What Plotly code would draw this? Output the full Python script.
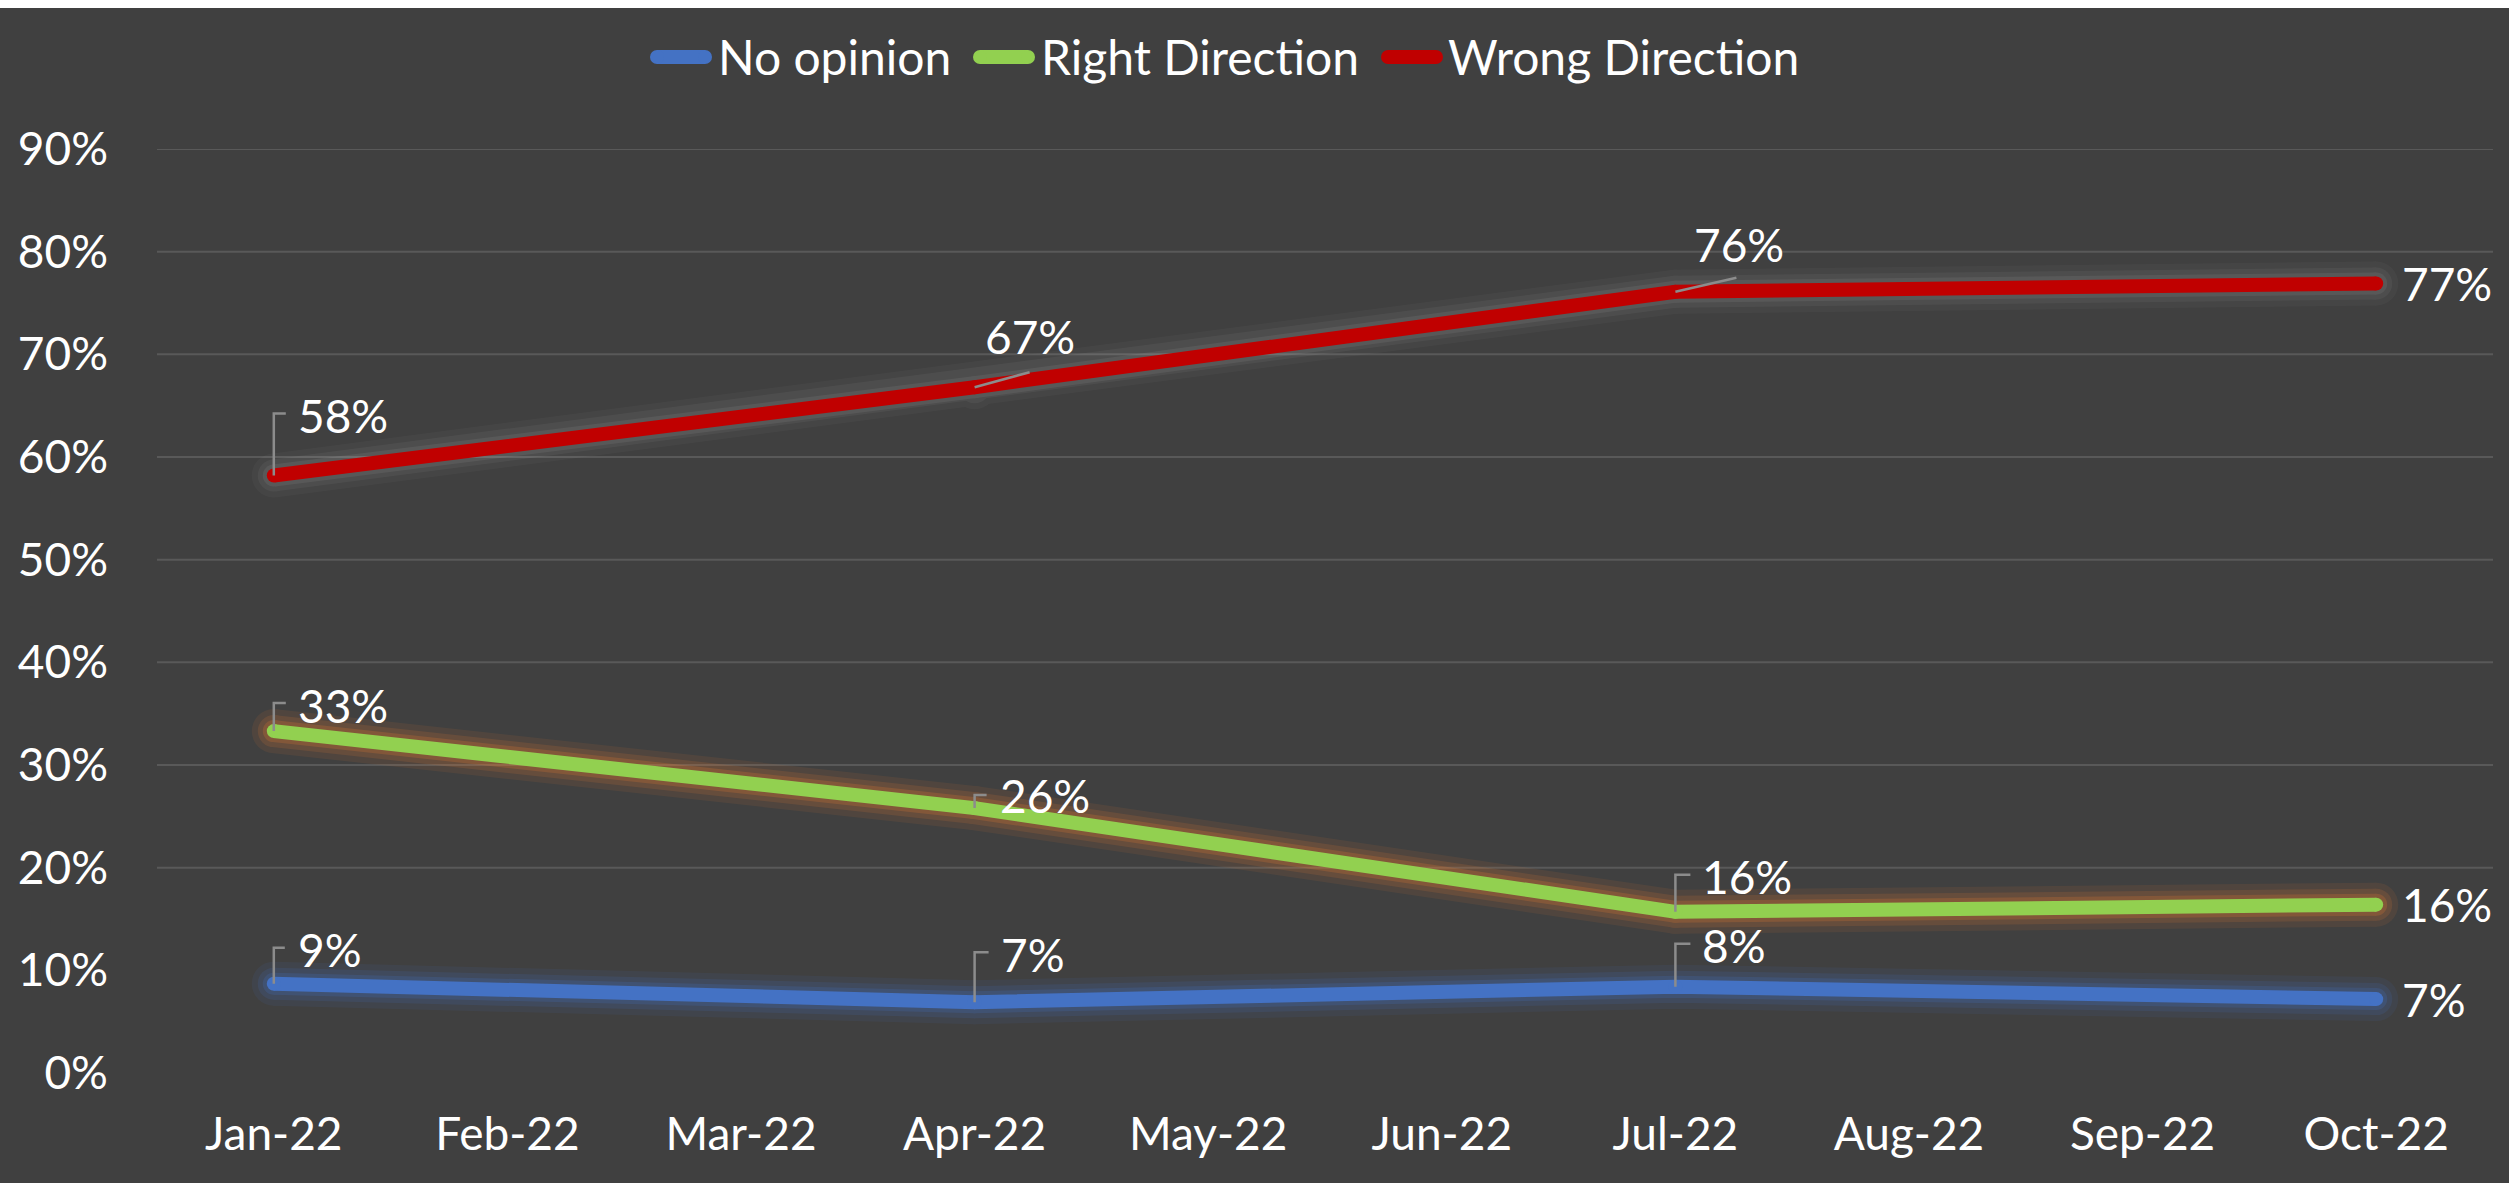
import plotly.graph_objects as go

# ---------------- data ----------------
months = ["Jan-22", "Feb-22", "Mar-22", "Apr-22", "May-22",
          "Jun-22", "Jul-22", "Aug-22", "Sep-22", "Oct-22"]
survey_months = ["Jan-22", "Apr-22", "Jul-22", "Oct-22"]
no_opinion = [0.087, 0.069, 0.084, 0.072]
right_direction = [0.333, 0.258, 0.157, 0.164]
wrong_direction = [0.582, 0.668, 0.761, 0.769]
y_ticks = [0.0, 0.1, 0.2, 0.3, 0.4, 0.5, 0.6, 0.7, 0.8, 0.9]
grid_values = [0.2, 0.3, 0.4, 0.5, 0.6, 0.7, 0.8, 0.9]

# ---------------- styling ----------------
BG = "#404040"
GRID = "#595959"
LEADER = "#8C8C8C"
FONT = "Lato, Liberation Sans, Arial, sans-serif"
FS = 46
LW = 14
W, H = 2509, 1175
ML, MR, MT, MB = 157, 16, 141, 110
PW, PH = W - ML - MR, H - MT - MB

series = [
    dict(name="No opinion", y=no_opinion, color="#4472C4", glow="#4472C4", gop=0.26),
    dict(name="Right Direction", y=right_direction, color="#92D050", glow="#ED7D31", gop=0.26),
    dict(name="Wrong Direction", y=wrong_direction, color="#C00000", glow="#D9D9D9", gop=0.10),
]

# label placement per point (pixels): (dx, dy_up, leader_path or None)
label_pos = {
    "No opinion": [(22, 34, "M0,0 L0,36 L11,36"), (24, 48, "M0,0 L0,50 L14,50"),
                   (25, 41, "M0,0 L0,43 L15,43"), (24, 0, None)],
    "Right Direction": [(22, 26, "M0,0 L0,28 L12,28"), (23, 13, "M0,0 L0,13 L12,13"),
                        (25, 35, "M0,0 L0,37 L15,37"), (24, 0, None)],
    "Wrong Direction": [(22, 60, "M0,0 L0,62 L12,62"), (8, 51, "M0,0 L55,15"),
                        (17, 47, "M0,0 L61,14"), (24, 0, None)],
}

# custom legend layout (figure pixels): swatch x0, swatch x1, text x
legend_layout = [(650, 712, 716), (973, 1035, 1039), (1381, 1443, 1446)]
LEG_Y = 49


def px_x(px):
    return (px - ML) / PW


def px_y(py):
    return (H - MB - py) / PH


fig = go.Figure()
for s in series:
    for w, op in [(44, 0.35), (32, 0.55), (22, 0.8)]:
        fig.add_trace(go.Scatter(
            x=survey_months, y=s["y"], mode="lines+markers",
            line=dict(color=s["glow"], width=w),
            marker=dict(color=s["glow"], size=w),
            opacity=op * s["gop"], showlegend=False, hoverinfo="skip"))
    fig.add_trace(go.Scatter(
        x=survey_months, y=s["y"], mode="lines+markers", name=s["name"],
        line=dict(color=s["color"], width=LW),
        marker=dict(color=s["color"], size=LW), showlegend=False))

annotations = []
shapes = []
for g in grid_values:
    shapes.append(dict(type="line", xref="paper", yref="y", x0=0, x1=1, y0=g, y1=g,
                       line=dict(color=GRID, width=2), layer="below"))

for s in series:
    for m, v, (dx, dy, path) in zip(survey_months, s["y"], label_pos[s["name"]]):
        annotations.append(dict(
            x=m, y=v, xref="x", yref="y", text=f"{v:.0%}", showarrow=False,
            xanchor="left", yanchor="middle", xshift=dx, yshift=dy,
            font=dict(family=FONT, size=FS, color="white")))
        if path:
            shapes.append(dict(
                type="path", xref="x", yref="y", xsizemode="pixel", ysizemode="pixel",
                xanchor=m, yanchor=v, path=path,
                line=dict(color=LEADER, width=2.5), layer="above"))

# legend built from shapes + text
for s, (sx0, sx1, tx) in zip(series, legend_layout):
    shapes.append(dict(type="line", xref="paper", yref="paper",
                       x0=px_x(sx0 + 7), x1=px_x(sx1 - 7), y0=px_y(LEG_Y), y1=px_y(LEG_Y),
                       line=dict(color=s["color"], width=LW)))
    for cx in (sx0 + 7, sx1 - 7):
        shapes.append(dict(type="circle", xref="paper", yref="paper",
                           xsizemode="pixel", ysizemode="pixel",
                           xanchor=px_x(cx), yanchor=px_y(LEG_Y),
                           x0=-LW / 2, x1=LW / 2, y0=-LW / 2, y1=LW / 2,
                           fillcolor=s["color"], line=dict(width=0)))
    annotations.append(dict(x=px_x(tx), y=px_y(LEG_Y - 1), xref="paper", yref="paper",
                            text=s["name"], showarrow=False, xanchor="left", yanchor="middle",
                            font=dict(family=FONT, size=48, color="white")))

fig.update_layout(
    width=W, height=H,
    paper_bgcolor=BG, plot_bgcolor=BG,
    margin=dict(l=ML, r=MR, t=MT, b=MB),
    font=dict(family=FONT, size=FS, color="white"),
    showlegend=False,
    xaxis=dict(type="category", categoryorder="array", categoryarray=months,
               tickvals=months, range=[-0.5, 9.5], showgrid=False, zeroline=False,
               showline=False, ticks="", ticklabelstandoff=30,
               tickfont=dict(family=FONT, size=FS, color="white")),
    yaxis=dict(range=[0, 0.9], tickvals=y_ticks, tickformat=".0%",
               showgrid=False, zeroline=False,
               showline=False, ticks="", ticklabelstandoff=48,
               tickfont=dict(family=FONT, size=FS, color="white")),
    annotations=annotations, shapes=shapes,
    hovermode=False,
)

fig.write_html("out.html", post_script=(
    "document.body.style.margin='0';document.body.style.paddingTop='8px';"
    "document.body.style.overflow='hidden';document.body.style.background='white';"))
